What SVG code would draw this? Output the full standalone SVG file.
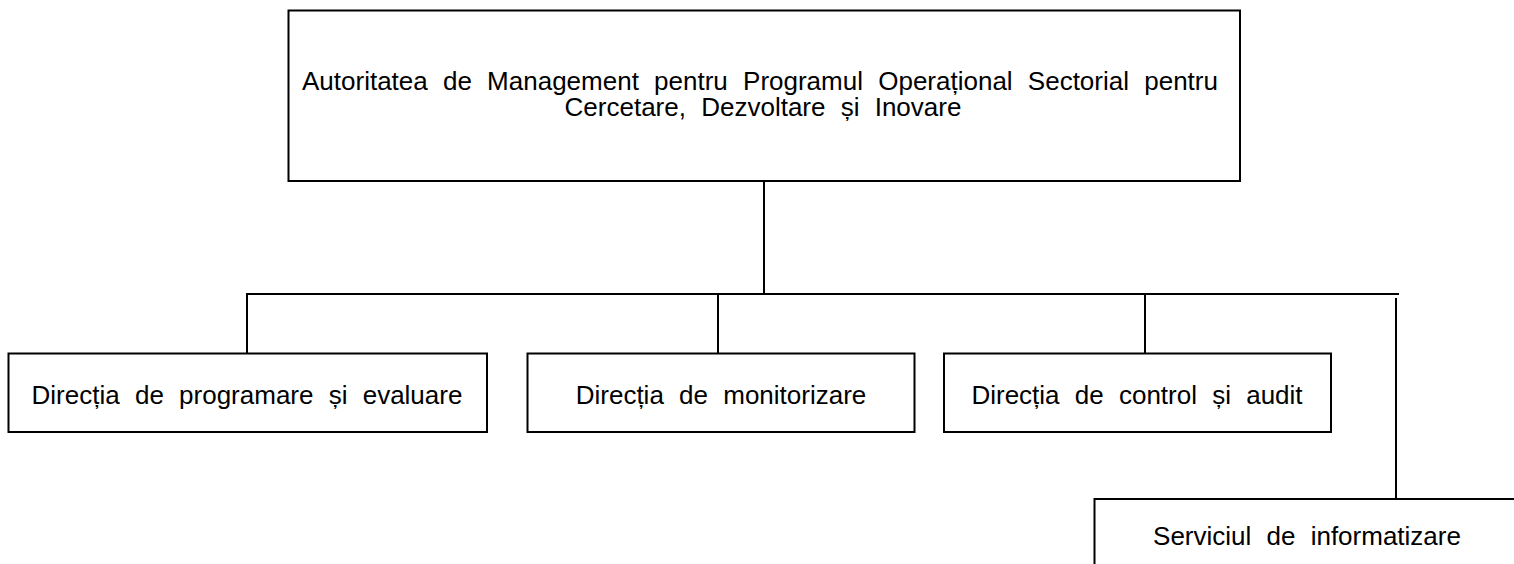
<svg xmlns="http://www.w3.org/2000/svg" width="1514" height="564" viewBox="0 0 1514 564">
<style>
.box{fill:#fff;stroke:#000;stroke-width:2}
.lbl{font-family:"Liberation Sans",Arial,sans-serif;font-size:26px;fill:#000;word-spacing:8px}
.conn{stroke:#000;stroke-width:2;fill:none}
</style>
<rect width="1514" height="564" fill="#fff"/>
<g id="connectors">
<line class="conn" x1="764" y1="181" x2="764" y2="294"/>
<line class="conn" x1="246" y1="294" x2="1399" y2="294"/>
<line class="conn" x1="247" y1="294" x2="247" y2="353"/>
<line class="conn" x1="718" y1="294" x2="718" y2="353"/>
<line class="conn" x1="1145" y1="294" x2="1145" y2="353"/>
<line class="conn" x1="1396" y1="298" x2="1396" y2="499"/>
</g>
<g id="node-am">
<rect class="box" x="288.5" y="10.5" width="951.5" height="170.5"/>
<text class="lbl" x="302" y="90">Autoritatea de Management pentru Programul Operațional Sectorial pentru</text>
<text class="lbl" x="763" y="116" text-anchor="middle">Cercetare, Dezvoltare și Inovare</text>
</g>
<g id="node-dpe">
<rect class="box" x="8.5" y="353.5" width="478.5" height="78.5"/>
<text class="lbl" x="247" y="404" text-anchor="middle">Direcția de programare și evaluare</text>
</g>
<g id="node-dm">
<rect class="box" x="527.5" y="353.5" width="387" height="78.5"/>
<text class="lbl" x="721" y="404" text-anchor="middle">Direcția de monitorizare</text>
</g>
<g id="node-dca">
<rect class="box" x="944" y="353.5" width="387" height="78.5"/>
<text class="lbl" x="1137" y="404" text-anchor="middle">Direcția de control și audit</text>
</g>
<g id="node-si">
<rect class="box" x="1094.5" y="499" width="440" height="100"/>
<text class="lbl" x="1307" y="545" text-anchor="middle">Serviciul de informatizare</text>
</g>
</svg>
